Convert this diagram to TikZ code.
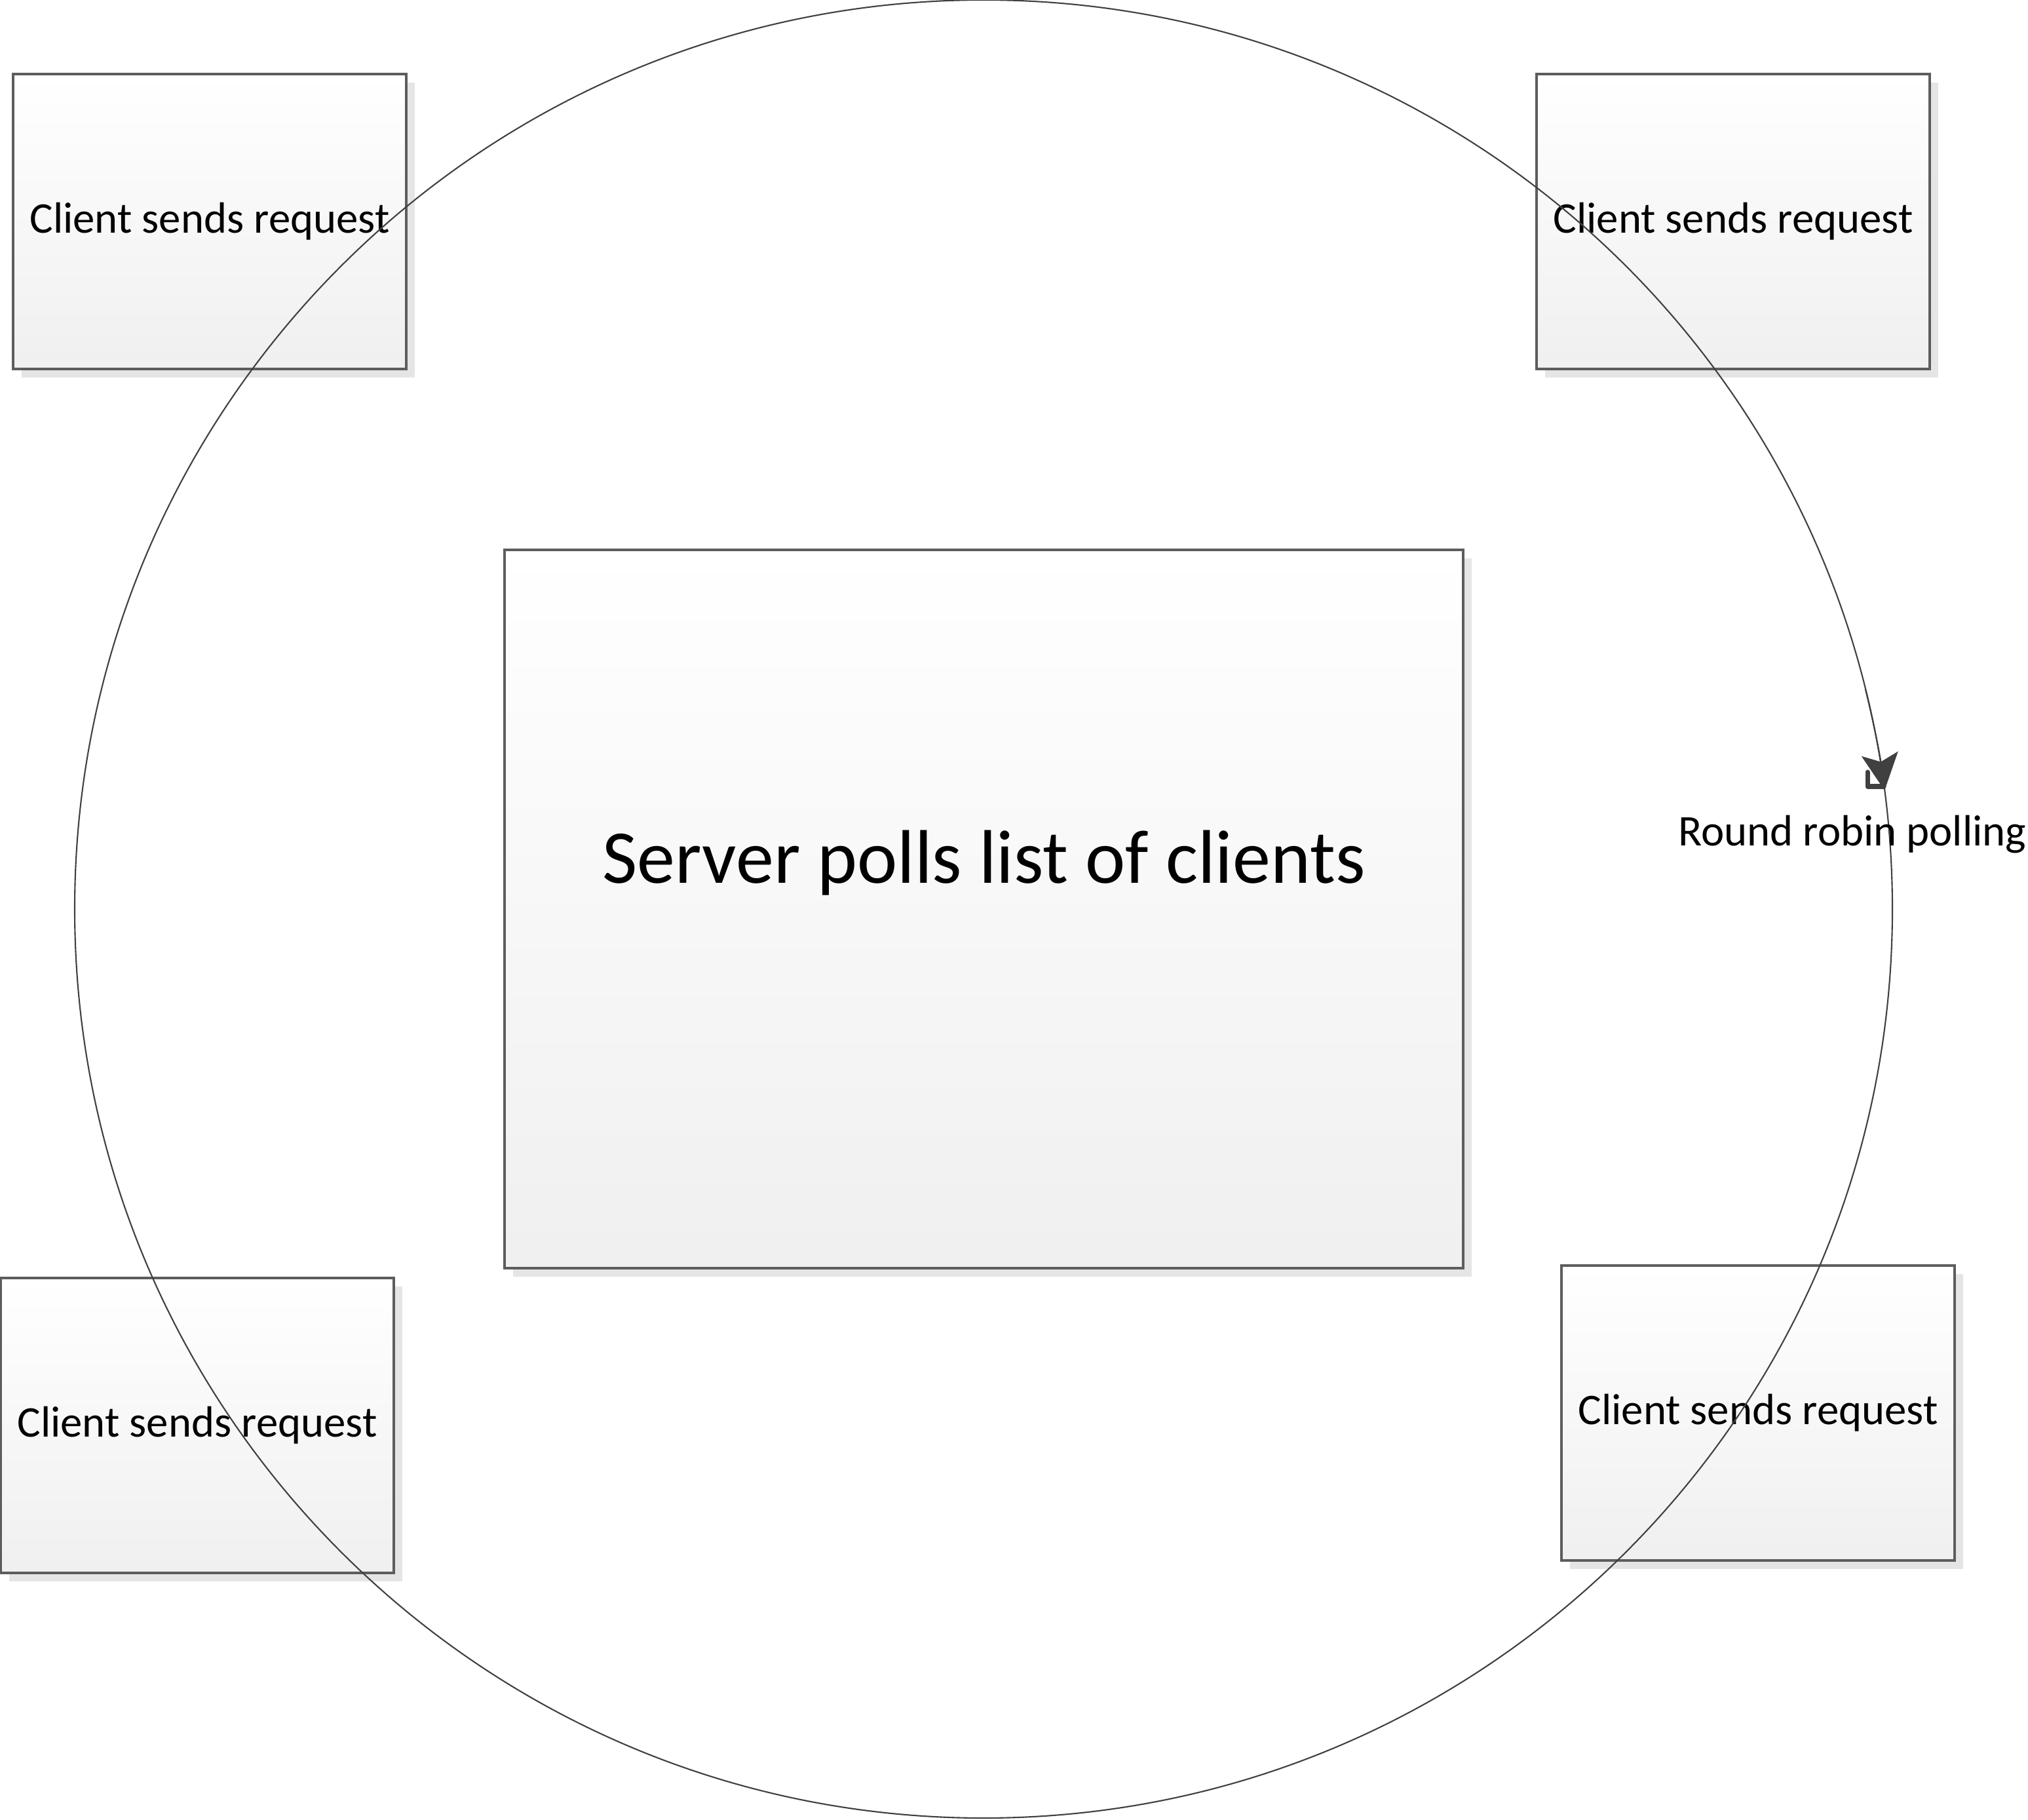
\documentclass[tikz,border=0pt]{standalone}
\usepackage{fontspec}
\setmainfont{Carlito}
\usetikzlibrary{shadows,arrows.meta}
\definecolor{edge}{HTML}{404040}
\begin{document}
\begin{tikzpicture}[
  clientbox/.style={draw=edge!85,line width=0.9pt,top color=white,bottom color=gray!12,
    drop shadow={shadow xshift=0.13cm,shadow yshift=-0.13cm,fill=gray!20,opacity=1},
    minimum width=6cm,minimum height=4.5cm,inner sep=0pt,
    font=\fontsize{19}{23}\selectfont},
  ring/.style={edge,line width=0.6pt}]
\useasboundingbox (0,0) rectangle (30.95,27.76);
\node[clientbox,minimum width=14.63cm,minimum height=10.96cm] (server) at (15.015,13.89) {};
\node[font=\fontsize{33}{40}\selectfont] (servertext) at ([yshift=0.7cm]server.center) {Server polls list of clients};
\node[clientbox] (c1) at (3.20,24.38) {Client sends request};
\node[clientbox] (c2) at (26.45,24.38) {Client sends request};
\node[clientbox] (c3) at (3.01,6.01) {Client sends request};
\node[clientbox] (c4) at (26.83,6.20) {Client sends request};
\coordinate (c) at (15.01,13.89);
\draw[ring] (c) circle (13.87);
% polling direction
\draw[ring,-{Stealth[length=16pt,width=16pt,inset=3.5pt]}] ([shift={(14:13.87)}]c) arc[start angle=14,end angle=7.5,radius=13.87];
\draw[edge,line width=2pt,line cap=round,line join=round] (28.50,15.98) -- (28.50,15.76) -- (28.75,15.76);
\node[font=\fontsize{19}{23}\selectfont] (poll) at (28.27,15.03) {Round robin polling};
\end{tikzpicture}
\end{document}
